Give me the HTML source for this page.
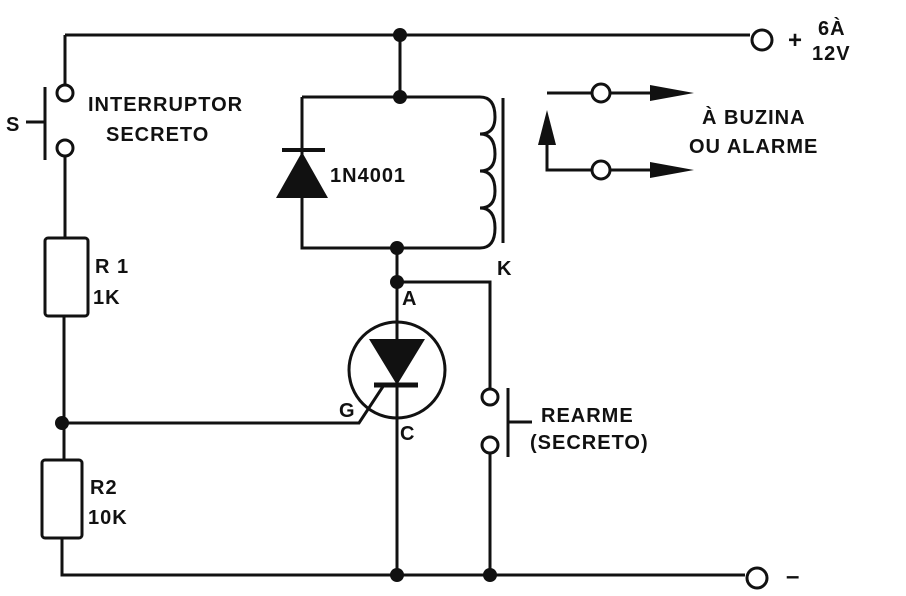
<!DOCTYPE html>
<html><head><style>body{margin:0;background:#fff}svg{display:block}text{font-family:"Liberation Sans",sans-serif;font-weight:bold;fill:#111;letter-spacing:1px}</style></head><body>
<svg width="906" height="596" viewBox="0 0 906 596" xmlns="http://www.w3.org/2000/svg">
<g stroke="#111" stroke-width="3" fill="none">
<path d="M65,35 H750"/>
<path d="M65,35 V85 M65,156 V238 M64,316 V460 M62,538 V575 H745"/>
<circle cx="65" cy="93" r="8"/><circle cx="65" cy="148" r="8"/>
<path d="M45,87 V160 M26,122 H45"/>
<rect x="45" y="238" width="43" height="78" rx="3"/>
<rect x="42" y="460" width="40" height="78" rx="3"/>
<path d="M62,423 H359 L384,385"/>
<path d="M400,35 V97 M302,97 H480 M302,97 V248 H480 M397,248 V575"/>
<path d="M480,97 q15,0 15,20 q0,17 -15,17 q15,0 15,20 q0,17 -15,17 q15,0 15,20 q0,17 -15,17 q15,0 15,20 q0,20 -15,20" />
<path d="M503,98 V243"/>
<circle cx="397" cy="370" r="48"/>
<path d="M397,282 H490 V389 M490,453 V575"/>
<circle cx="490" cy="397" r="8"/><circle cx="490" cy="445" r="8"/>
<path d="M508,388 V457 M508,422 H532"/>
<circle cx="762" cy="40" r="10"/><circle cx="757" cy="578" r="10"/>
<path d="M547,93 H592 M610,93 H650 M547,130 V170 H592 M610,170 H650"/>
<circle cx="601" cy="93" r="9"/><circle cx="601" cy="170" r="9"/>
<path d="M374,385 H418" stroke-width="5"/>
<path d="M282,150 H325" stroke-width="4"/>
</g>
<g fill="#111">
<circle cx="400" cy="35" r="7"/><circle cx="400" cy="97" r="7"/><circle cx="397" cy="248" r="7"/><circle cx="397" cy="282" r="7"/>
<circle cx="62" cy="423" r="7"/><circle cx="397" cy="575" r="7"/><circle cx="490" cy="575" r="7"/>
<path d="M302,152 L328,198 H276 Z"/>
<path d="M369,339 H425 L397,385 Z"/>
<path d="M650,85 L694,93 L650,101 Z"/><path d="M650,162 L694,170 L650,178 Z"/>
<path d="M538,145 L547,110 L556,145 Z"/>
</g>
<g font-size="20">
<text x="6" y="131">S</text>
<text x="88" y="111">INTERRUPTOR</text><text x="106" y="141">SECRETO</text>
<text x="95" y="273">R 1</text><text x="93" y="304">1K</text>
<text x="90" y="494">R2</text><text x="88" y="524">10K</text>
<text x="330" y="182">1N4001</text>
<text x="497" y="275">K</text>
<text x="402" y="305">A</text><text x="339" y="417">G</text><text x="400" y="440">C</text>
<text x="541" y="422">REARME</text><text x="530" y="449">(SECRETO)</text>
<text x="702" y="124">À BUZINA</text><text x="689" y="153">OU ALARME</text>
<text x="788" y="48" font-size="24">+</text><text x="818" y="35">6À</text><text x="812" y="60">12V</text>
<text x="786" y="584" font-size="24">–</text>
</g>
</svg>
</body></html>
